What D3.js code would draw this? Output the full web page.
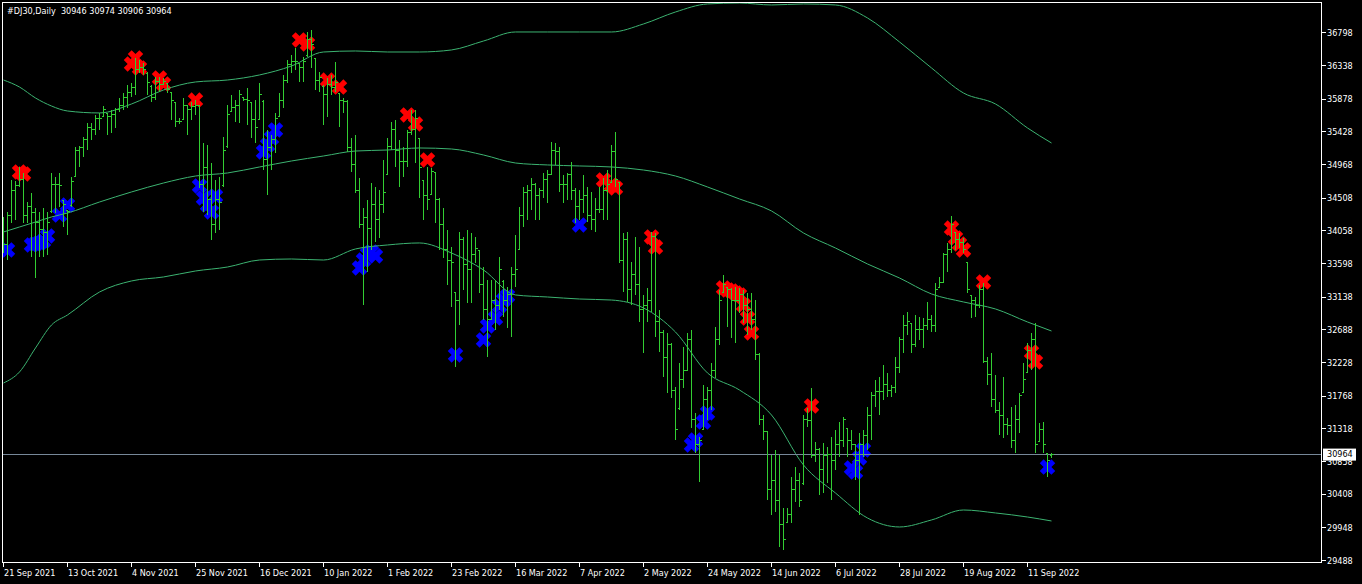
<!DOCTYPE html>
<html>
<head>
<meta charset="utf-8">
<script src="https://cdnjs.cloudflare.com/ajax/libs/d3/7.8.5/d3.min.js"></script>
<style>
  html, body { margin: 0; padding: 0; background: #000; }
  svg { display: block; }
  text { font-family: "DejaVu Sans Condensed", "DejaVu Sans", sans-serif; font-size: 9px; fill: #fff; }
</style>
</head>
<body>
<div id="chart"></div>
<script>
// chart header
var symbolName = "#DJ30,Daily";
var lastQuote = [30946, 30974, 30906, 30964];

// date labels, one every 16 bars
var dateLabels = ["21 Sep 2021", "13 Oct 2021", "4 Nov 2021", "25 Nov 2021", "16 Dec 2021", "10 Jan 2022",
  "1 Feb 2022", "23 Feb 2022", "16 Mar 2022", "7 Apr 2022", "2 May 2022", "24 May 2022", "14 Jun 2022",
  "6 Jul 2022", "28 Jul 2022", "19 Aug 2022", "11 Sep 2022"];
var labelStep = 16;

var priceTicks = [36798, 36338, 35878, 35428, 34968, 34508, 34058, 33598, 33138, 32688, 32228, 31768,
  31318, 30858, 30408, 29948, 29488];

// daily OHLC
var opens = [34100, 33859, 34274, 34620, 34676, 34759, 34274, 34385, 34302, 34177,
  34067, 34025, 34320, 34690, 34702, 34470, 34330, 34400, 34810, 35174,
  35202, 35313, 35479, 35451, 35617, 35640, 35680, 35631, 35659, 35728,
  35797, 35894, 35977, 36033, 36282, 36310, 36240, 36060, 35894, 36116,
  36074, 36095, 35970, 35830, 35562, 35600, 35797, 35728, 35770, 35790,
  34690, 34925, 34482, 34136, 34482, 34680, 35220, 35710, 35756, 35797,
  35900, 35880, 35830, 35590, 35600, 35850, 35036, 35202, 35313, 35640,
  35866, 36143, 36351, 36393, 36370, 36310, 36480, 36697, 36440, 36143,
  36060, 35936, 36074, 36033, 35950, 35866, 35839, 35202, 34967, 34620,
  34136, 34233, 34094, 34413, 34205, 34413, 34840, 35216, 35451, 35174,
  35008, 35015, 35410, 35451, 35330, 34750, 34551, 34560, 34860, 34482,
  34136, 33790, 33651, 33200, 33097, 33928, 33582, 33513, 33721, 33780,
  33305, 32959, 32821, 33097, 33028, 33360, 33097, 33167, 33444, 33800,
  34274, 34579, 34620, 34690, 34551, 34620, 34759, 34828, 35174, 35160,
  34690, 34700, 34828, 34620, 34385, 34482, 34551, 34274, 34205, 34344,
  34350, 34620, 34730, 35147, 34720, 33651, 33928, 33236, 33444, 33305,
  32959, 33028, 33097, 33970, 32793, 32654, 32295, 32475, 31851, 31590,
  31990, 32128, 32544, 31436, 31090, 31310, 31713, 31851, 32128, 32544,
  33200, 33270, 33236, 33097, 33090, 33167, 33028, 32959, 32821, 32336,
  31436, 31270, 30467, 30605, 30328, 29983, 30020, 30121, 30467, 30605,
  30550, 31436, 31430, 30951, 31021, 30744, 30951, 30960, 30882, 31090,
  31159, 31320, 31159, 31090, 30882, 31090, 31228, 31505, 31782, 31824,
  31830, 31921, 31851, 31879, 32156, 32544, 32751, 32770, 32475, 32682,
  32690, 32751, 32821, 32751, 33270, 33333, 33721, 33790, 34030, 33928,
  33887, 33610, 33160, 33097, 33028, 33236, 32239, 32059, 31713, 31574,
  31505, 31367, 31360, 31159, 31436, 31820, 32100, 32405, 32544, 31140,
  31298, 30970, 30946];
var highs = [34247, 34316, 34759, 34750, 34939, 34856, 34454, 34579, 34371, 34316,
  34371, 34316, 34856, 34800, 34856, 34482, 34344, 34800, 35216, 35230,
  35354, 35548, 35548, 35659, 35687, 35783, 35687, 35728, 35756, 35894,
  35963, 36074, 36102, 36448, 36420, 36379, 36254, 36074, 36185, 36185,
  36171, 36102, 35977, 35839, 35617, 35894, 35797, 35839, 35866, 35797,
  35271, 35243, 34994, 34759, 34800, 35354, 35797, 35936, 35866, 36005,
  35908, 36033, 35839, 35866, 36102, 35866, 35451, 35382, 35687, 35963,
  36213, 36420, 36490, 36586, 36379, 36462, 36808, 36836, 36448, 36254,
  36074, 36171, 36213, 36393, 35963, 35894, 35866, 35340, 35382, 34787,
  34371, 34482, 34717, 34662, 34620, 35036, 35340, 35562, 35590, 35313,
  35216, 35451, 35728, 35728, 35340, 34759, 34939, 34925, 34870, 34510,
  34371, 34067, 33831, 33208, 34039, 33970, 34067, 34025, 33970, 33790,
  33554, 33374, 33374, 33374, 33693, 33374, 33277, 33554, 33997, 34385,
  34662, 34690, 34787, 34717, 34648, 34856, 34897, 35285, 35271, 35216,
  34828, 34856, 35008, 34648, 34620, 34828, 34662, 34593, 34510, 34662,
  34787, 34897, 35243, 35423, 34731, 34025, 34039, 33624, 33970, 33831,
  33167, 33264, 34039, 34025, 32959, 32682, 32641, 32502, 31893, 32225,
  32447, 32641, 32682, 31533, 31201, 31921, 31893, 32225, 32724, 33236,
  33444, 33277, 33264, 33277, 33264, 33236, 33194, 33194, 33097, 32364,
  31505, 31270, 30951, 31021, 30951, 30217, 30217, 30647, 30785, 30702,
  31505, 31602, 31879, 31131, 31048, 31117, 31062, 31201, 31298, 31408,
  31478, 31325, 31298, 31090, 31256, 31298, 31616, 31824, 31990, 32031,
  32197, 32087, 31921, 32308, 32585, 32890, 32931, 32779, 32890, 32862,
  32848, 33070, 32890, 33333, 33416, 33748, 33887, 34260, 34039, 34025,
  33956, 33624, 33167, 33139, 33305, 33333, 32308, 32364, 32059, 31685,
  32031, 31464, 31616, 31643, 31810, 32225, 32502, 32641, 32779, 31394,
  31408, 30979, 30974];
var lows = [33748, 33651, 34164, 34205, 34662, 34164, 34164, 33693, 33402, 33693,
  33693, 33721, 34302, 34302, 34385, 34108, 33997, 34385, 34800, 34939,
  35077, 35174, 35313, 35382, 35451, 35631, 35382, 35410, 35479, 35700,
  35728, 35756, 35908, 35936, 36240, 36213, 35936, 35839, 35866, 35977,
  36074, 35963, 35590, 35493, 35534, 35590, 35382, 35590, 35659, 34648,
  34316, 34274, 33928, 34025, 34067, 34662, 35202, 35700, 35562, 35548,
  35853, 35520, 35340, 35271, 35590, 34897, 34551, 34897, 35133, 35631,
  35756, 36102, 36240, 36282, 36116, 36116, 36462, 36310, 36005, 35977,
  35520, 35631, 35936, 35977, 35493, 35687, 35147, 34870, 34579, 34094,
  33028, 33485, 33790, 33900, 33956, 34302, 34828, 35174, 34939, 34662,
  34800, 34939, 35382, 34994, 34510, 34205, 34344, 34551, 34164, 33790,
  33679, 33305, 33001, 32170, 32751, 33236, 33056, 33056, 33610, 33194,
  32821, 32308, 32821, 32682, 32959, 32862, 32710, 32585, 33277, 33790,
  34108, 34205, 34344, 34205, 34205, 34510, 34441, 34828, 34967, 34593,
  34441, 34482, 34482, 34164, 34205, 34302, 34177, 34067, 34039, 34302,
  34205, 34205, 34717, 34662, 33610, 33208, 33070, 33028, 33167, 32793,
  32364, 32793, 32931, 32585, 32377, 32031, 31810, 31741, 31159, 31574,
  31879, 32128, 31325, 30979, 30578, 31298, 31436, 31574, 32018, 32475,
  33194, 32724, 32571, 32502, 32918, 32779, 32613, 32682, 32267, 31367,
  31159, 30328, 30121, 30162, 29678, 29636, 30010, 30010, 30301, 30231,
  30536, 31339, 30910, 30855, 30398, 30425, 30564, 30328, 30744, 30924,
  31062, 30924, 31021, 30605, 30121, 30924, 31021, 31159, 31616, 31505,
  31713, 31754, 31754, 31810, 32087, 32364, 32613, 32364, 32447, 32544,
  32433, 32682, 32654, 32654, 33264, 33333, 33485, 33748, 33790, 33817,
  33748, 33194, 32848, 32862, 32987, 32225, 31921, 31616, 31533, 31228,
  31187, 31228, 31048, 30979, 31256, 31810, 32087, 32128, 30979, 31131,
  30979, 30647, 30906];
var closes = [33859, 34274, 34620, 34676, 34759, 34274, 34385, 34302, 34177, 34067,
  34025, 34177, 34690, 34702, 34676, 34413, 34316, 34731, 35174, 35202,
  35313, 35479, 35451, 35617, 35610, 35728, 35631, 35659, 35728, 35797,
  35894, 35977, 36033, 36282, 36310, 36282, 36102, 35894, 36116, 36074,
  36116, 36005, 35866, 35562, 35570, 35797, 35728, 35770, 35797, 34690,
  34925, 34482, 34136, 34482, 34441, 35174, 35659, 35756, 35797, 35936,
  35880, 35866, 35590, 35479, 35936, 35036, 35202, 35313, 35617, 35866,
  36143, 36351, 36393, 36400, 36310, 36393, 36697, 36628, 36143, 36171,
  35936, 36074, 36033, 36102, 35866, 35839, 35202, 34967, 34620, 34136,
  34233, 34094, 34413, 34205, 34413, 34579, 35216, 35451, 35174, 35008,
  35015, 35410, 35451, 35617, 34925, 34551, 34482, 34870, 34482, 34136,
  33790, 33651, 33610, 33097, 33928, 33582, 33513, 33721, 33817, 33305,
  32959, 32821, 33097, 33028, 33513, 33097, 33167, 33444, 33513, 34274,
  34579, 34620, 34690, 34551, 34620, 34759, 34828, 35174, 35160, 34690,
  34700, 34828, 34620, 34385, 34482, 34551, 34274, 34205, 34344, 34350,
  34620, 34690, 35147, 34759, 33651, 33928, 33236, 33444, 33305, 32959,
  33028, 33097, 33970, 32793, 32654, 32295, 32475, 31851, 31298, 31990,
  32128, 32544, 31436, 31090, 31159, 31713, 31851, 32128, 32544, 33097,
  33305, 33236, 33097, 33090, 33167, 33028, 32959, 32821, 32336, 31436,
  31270, 30467, 30605, 30328, 29983, 29775, 30121, 30467, 30605, 30328,
  31436, 31430, 30951, 31021, 30744, 30951, 30960, 30882, 31090, 31159,
  31436, 31159, 31090, 30882, 31090, 31228, 31505, 31782, 31824, 31830,
  31921, 31851, 31879, 32156, 32544, 32751, 32793, 32475, 32682, 32690,
  32751, 32821, 32751, 33236, 33333, 33721, 33790, 34136, 33928, 33887,
  33790, 33236, 33097, 33028, 33236, 32239, 32059, 31713, 31574, 31505,
  31367, 31360, 31159, 31436, 31782, 31990, 32405, 32544, 31090, 31298,
  31090, 30882, 30964];

// envelope bands, read at these bars
var bandBars = [0, 4, 8, 12, 16, 24, 32, 40, 48, 56, 64, 72, 80, 88, 96, 104, 112, 120, 128, 136,
  144, 152, 160, 168, 176, 184, 192, 200, 208, 216, 224, 232, 240, 248, 256, 262];
var upperBand = [36143, 36046, 35894, 35783, 35714, 35687, 35811, 36005, 36116, 36143,
  36213, 36337, 36531, 36545, 36531, 36531, 36559, 36683, 36808, 36808,
  36808, 36808, 36919, 37085, 37196, 37209, 37182, 37196, 37182, 37002,
  36670, 36310, 35963, 35811, 35479, 35271];
var middleBand = [34039, 34108, 34177, 34247, 34302, 34454, 34593, 34717, 34814, 34856,
  34939, 35022, 35091, 35160, 35174, 35202, 35188, 35105, 34994, 34967,
  34953, 34939, 34897, 34814, 34662, 34496, 34330, 34025, 33817, 33596,
  33402, 33181, 33070, 32973, 32793, 32668];
var lowerBand = [31948, 32101, 32433, 32751, 32890, 33208, 33361, 33416, 33499, 33554,
  33651, 33665, 33651, 33804, 33859, 33887, 33748, 33513, 33167, 33139,
  33111, 33097, 32987, 32654, 32087, 31851, 31505, 30813, 30425, 30079,
  29955, 30052, 30190, 30149, 30093, 30038];

// signal arrows
var sellBars = [4, 5, 32, 33, 34, 39, 40, 48, 74, 76, 81, 84, 101, 103, 106, 150, 152, 153, 162, 163,
  180, 181, 182, 183, 184, 185, 186, 187, 202, 237, 238, 239, 240, 245, 257, 258];
var sellPrices = [34870, 34842, 36365, 36448, 36310, 36171, 36088, 35866, 36697, 36642, 36143, 36046,
  35659, 35534, 35036, 34759, 34690, 34648, 33970, 33831, 33264, 33236, 33222, 33194, 33167, 33028,
  32848, 32641, 31630, 34094, 33956, 33873, 33790, 33347, 32377, 32239];
var buyBars = [1, 7, 8, 9, 10, 11, 14, 16, 49, 50, 51, 52, 53, 65, 66, 67, 68, 89, 90, 91, 92, 93,
  113, 120, 121, 123, 124, 125, 126, 144, 172, 173, 175, 176, 212, 213, 214, 215, 261];
var buyPrices = [33790, 33859, 33873, 33887, 33914, 33984, 34274, 34413, 34676, 34510, 34413, 34316,
  34537, 35147, 35243, 35340, 35451, 33541, 33651, 33734, 33762, 33707, 32336, 32544, 32738, 32848,
  33015, 33097, 33153, 34136, 31090, 31159, 31408, 31533, 30772, 30716, 30910, 31021, 30785];

drawChart(1362, 584);

function drawChart(w, h) {
  var left = 2.5, top = 2.5, right = 1321.5, bottom = 562.5;
  var svg = d3.select("#chart").append("svg").attr("width", w).attr("height", h);

  svg.append("rect").attr("width", w).attr("height", h).attr("fill", "#000");

  var x = d3.scaleLinear().domain([0, opens.length - 1]).range([3.5, 1051.5]);
  var y = d3.scaleLinear().domain([29488, 36798]).range([560.7, 32.7]);

  svg.append("clipPath").attr("id", "plot")
    .append("rect").attr("x", left + 0.5).attr("y", top + 0.5)
    .attr("width", right - left - 1).attr("height", bottom - top - 1);

  var plot = svg.append("g").attr("clip-path", "url(#plot)");

  // arrows sit under the bars
  var cross = d3.symbol().type(d3.symbolCross).size(150);
  plot.append("g").selectAll("path")
    .data(sellBars)
    .enter().append("path")
      .attr("d", cross)
      .attr("fill", "#ff0000")
      .attr("transform", function(d, i) { return "translate(" + x(d) + "," + y(sellPrices[i]) + ") rotate(45)"; });
  plot.append("g").selectAll("path")
    .data(buyBars)
    .enter().append("path")
      .attr("d", cross)
      .attr("fill", "#0000ff")
      .attr("transform", function(d, i) { return "translate(" + x(d) + "," + y(buyPrices[i]) + ") rotate(45)"; });

  // bands
  var band = d3.line()
    .x(function(d, i) { return x(bandBars[i]); })
    .y(function(d) { return y(d); })
    .curve(d3.curveMonotoneX);
  plot.append("g").selectAll("path")
    .data([upperBand, middleBand, lowerBand])
    .enter().append("path")
      .attr("d", band)
      .attr("fill", "none")
      .attr("stroke", "#3cb371")
      .attr("stroke-width", 1);

  // bid line
  plot.append("line")
    .attr("x1", left).attr("x2", right)
    .attr("y1", y(lastQuote[3])).attr("y2", y(lastQuote[3]))
    .attr("stroke", "#778899")
    .attr("shape-rendering", "crispEdges");

  // OHLC bars
  plot.append("g")
    .attr("stroke", "#32cd32")
    .attr("fill", "none")
    .attr("shape-rendering", "crispEdges")
    .selectAll("path")
    .data(closes)
    .enter().append("path")
      .attr("d", function(c, i) {
        var bx = x(i);
        return "M" + bx + "," + y(highs[i]) + "V" + y(lows[i]) +
          "M" + (bx - 2) + "," + y(opens[i]) + "H" + bx +
          "M" + bx + "," + y(c) + "H" + (bx + 2);
      });

  // frame
  svg.append("rect")
    .attr("x", left).attr("y", top)
    .attr("width", right - left).attr("height", bottom - top)
    .attr("fill", "none").attr("stroke", "#fff")
    .attr("shape-rendering", "crispEdges");

  // price axis
  var py = svg.append("g").selectAll("g")
    .data(priceTicks)
    .enter().append("g")
      .attr("transform", function(d) { return "translate(0," + y(d) + ")"; });
  py.append("line")
    .attr("x1", right).attr("x2", right + 4)
    .attr("stroke", "#fff").attr("shape-rendering", "crispEdges");
  py.append("text")
    .attr("x", right + 5.5)
    .attr("dy", "0.35em")
    .text(function(d) { return d; });

  // current price box
  var by = y(lastQuote[3]);
  svg.append("rect")
    .attr("x", right + 1.5).attr("y", by - 5.5)
    .attr("width", 33).attr("height", 12)
    .attr("fill", "#fff");
  svg.append("text")
    .attr("x", right + 5.5).attr("y", by)
    .attr("dy", "0.35em")
    .style("fill", "#000")
    .text(lastQuote[3]);

  // date axis
  var dx = svg.append("g").selectAll("g")
    .data(dateLabels)
    .enter().append("g")
      .attr("transform", function(d, i) { return "translate(" + x(i * labelStep) + ",0)"; });
  dx.append("line")
    .attr("y1", bottom).attr("y2", bottom + 4)
    .attr("stroke", "#fff").attr("shape-rendering", "crispEdges");
  dx.append("text")
    .attr("x", 0.5)
    .attr("y", 575.5)
    .text(function(d) { return d; });

  // header
  svg.append("text")
    .attr("x", 7).attr("y", 14)
    .attr("xml:space", "preserve")
    .style("white-space", "pre")
    .text(symbolName + "  " + lastQuote.join(" "));
}
</script>
</body>
</html>
